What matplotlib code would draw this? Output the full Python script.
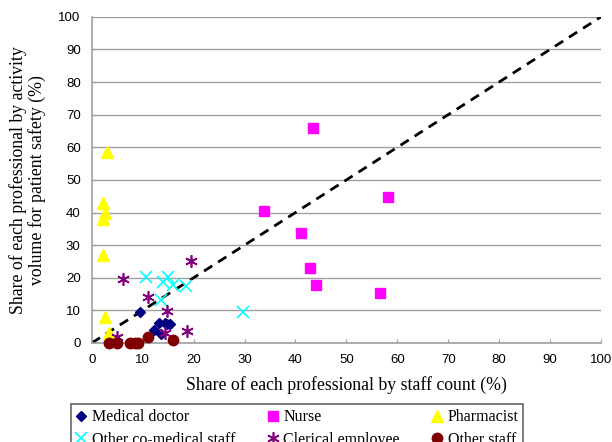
import numpy as np
import matplotlib.pyplot as plt

# Share by staff count (x) and by activity volume (y), in %
doctor_x = [9.4, 13.2, 14.3, 15.3, 12.3, 13.6, 14.8]
doctor_y = [9.4, 6.0, 6.2, 5.8, 3.9, 2.8, 5.9]
nurse_x = [43.5, 58.2, 33.8, 41.1, 42.8, 44.1, 56.6]
nurse_y = [66.0, 44.9, 40.5, 33.6, 22.9, 17.7, 15.2]
pharm_x = [3.0, 2.2, 2.5, 2.2, 2.2, 2.6, 3.4]
pharm_y = [58.5, 43.0, 39.8, 38.0, 27.0, 8.1, 3.0]
comed_x = [10.7, 14.9, 14.0, 16.0, 18.5, 13.6, 29.7]
comed_y = [20.3, 20.3, 18.6, 17.8, 17.5, 13.2, 9.5]
cleric_x = [6.2, 19.4, 11.1, 14.7, 14.3, 18.7, 5.0]
cleric_y = [19.5, 25.2, 14.2, 9.8, 3.2, 3.8, 1.7]
other_x = [3.4, 5.0, 7.5, 8.4, 9.1, 11.1, 16.0]
other_y = [0.0, 0.0, 0.0, 0.0, 0.0, 1.9, 0.9]

serif = ['Liberation Serif', 'DejaVu Serif']
sans = ['Liberation Sans', 'DejaVu Sans']

fig = plt.figure(figsize=(6.12, 4.42), dpi=100)
ax = fig.add_axes([0.150, 0.224, 0.832, 0.738])

ax.plot([0, 100], [0, 100], ls=(0, (3.5, 2.5)), color='black', lw=2, zorder=1)

kw = dict(ls='none', clip_on=False, zorder=3)
h_doc, = ax.plot(doctor_x, doctor_y, marker='D', ms=5.5, color='#000080', label='Medical doctor', **kw)
h_nur, = ax.plot(nurse_x, nurse_y, marker='s', ms=7, color='#ff00ff', label='Nurse', **kw)
h_pha, = ax.plot(pharm_x, pharm_y, marker='^', ms=8, color='#ffff00', label='Pharmacist', **kw)
h_com, = ax.plot(comed_x, comed_y, marker='x', ms=8, mew=1.2, color='#00ffff', label='Other co-medical staff', **kw)
h_cle, = ax.plot(cleric_x, cleric_y, marker=(6, 2, 0), ms=9, mew=1.2, color='#800080', label='Clerical employee', **kw)
h_oth, = ax.plot(other_x, other_y, marker='o', ms=7.5, color='#800000', label='Other staff', **kw)

ax.set_xlim(0, 100)
ax.set_ylim(0, 100)
ax.set_xticks(np.arange(0, 101, 10))
ax.set_yticks(np.arange(0, 101, 10))
ax.yaxis.grid(True, color='#a0a0a0', lw=1)
ax.set_axisbelow(True)
for s in ['top', 'right']:
    ax.spines[s].set_visible(False)
for s in ['left', 'bottom']:
    ax.spines[s].set_color('#a0a0a0')
    ax.spines[s].set_linewidth(1.2)
ax.tick_params(direction='in', length=3, color='#a0a0a0', labelsize=9.5, pad=8)
for t in ax.get_xticklabels() + ax.get_yticklabels():
    t.set_family(sans)

ax.set_xlabel('Share of each professional by staff count (%)', family=serif, fontsize=12.8, labelpad=7)
ax.set_ylabel('Share of each professional by activity\nvolume for patient safety (%)', family=serif,
              fontsize=12.8, labelpad=9, linespacing=1.05)

# row-wise legend order
handles = [h_doc, h_com, h_nur, h_cle, h_pha, h_oth]
leg = fig.legend(handles=handles, labels=[h.get_label() for h in handles],
                 loc='upper left', bbox_to_anchor=(0.116, 0.085), ncol=3, frameon=True,
                 fancybox=False, edgecolor='#404040', prop={'family': serif, 'size': 11.5},
                 handlelength=0.7, handletextpad=0.3, columnspacing=2.0, borderpad=0.3,
                 labelspacing=0.4, borderaxespad=0)
leg.get_frame().set_linewidth(1.2)

fig.savefig('out.png', dpi=100)
